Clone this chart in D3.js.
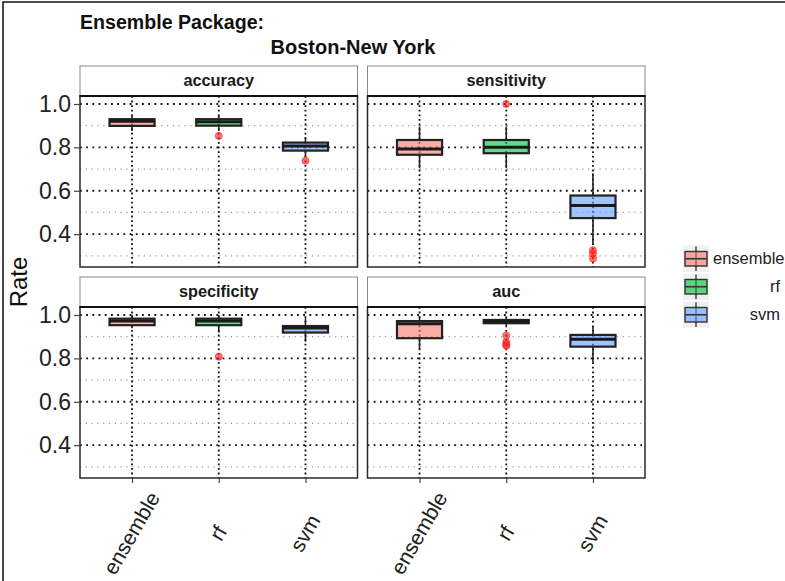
<!DOCTYPE html>
<html>
<head>
<meta charset="utf-8">
<script src="https://cdn.jsdelivr.net/npm/d3@7/dist/d3.min.js"></script>
<style>
  html, body { margin: 0; padding: 0; background: #fff; }
  svg { display: block; font-family: "Liberation Sans", Arial, sans-serif; }
</style>
</head>
<body>
<svg id="chart" width="785" height="581"></svg>
<script>
// Methods compared in every facet
const methods = ["ensemble", "rf", "svm"];
const metrics = ["accuracy", "sensitivity", "specificity", "auc"];

// Box statistics per method: [lower whisker, Q1, median, Q3, upper whisker]
const accuracyBoxes = [
  [0.875, 0.899, 0.920, 0.930, 0.950],
  [0.875, 0.900, 0.918, 0.930, 0.950],
  [0.758, 0.785, 0.806, 0.822, 0.847]
];
const sensitivityBoxes = [
  [0.704, 0.766, 0.792, 0.834, 0.896],
  [0.704, 0.773, 0.801, 0.834, 0.896],
  [0.352, 0.474, 0.532, 0.578, 0.681]
];
const specificityBoxes = [
  [0.939, 0.953, 0.972, 0.983, 1.000],
  [0.919, 0.953, 0.972, 0.983, 1.000],
  [0.877, 0.919, 0.940, 0.949, 0.985]
];
const aucBoxes = [
  [0.842, 0.893, 0.960, 0.972, 0.995],
  [0.950, 0.962, 0.970, 0.977, 0.990],
  [0.781, 0.854, 0.888, 0.908, 0.949]
];

// Points beyond the whiskers
const accuracyOutliers = [[], [0.853], [0.738]];
const sensitivityOutliers = [[], [1.000], [0.325, 0.310, 0.288]];
const specificityOutliers = [[], [0.808], []];
const aucOutliers = [[], [0.905, 0.875, 0.865, 0.858], []];

const yTicks = [0.4, 0.6, 0.8, 1.0];
const yMinor = [0.3, 0.5, 0.7, 0.9];

const boxesByMetric = {
  accuracy: accuracyBoxes, sensitivity: sensitivityBoxes,
  specificity: specificityBoxes, auc: aucBoxes
};
const outliersByMetric = {
  accuracy: accuracyOutliers, sensitivity: sensitivityOutliers,
  specificity: specificityOutliers, auc: aucOutliers
};

const fills = d3.scaleOrdinal().domain(methods).range(["#F8766D", "#00BA38", "#619CFF"]);

const svg = d3.select("#chart");

// outer frame
svg.append("rect").attr("x", 3).attr("y", 2).attr("width", 800).attr("height", 600)
  .attr("fill", "none").attr("stroke", "#111").attr("stroke-width", 1.5);

// titles
svg.append("text").attr("x", 80).attr("y", 29).attr("font-size", 19.6).attr("font-weight", "bold")
  .attr("fill", "#111").text("Ensemble Package:");
svg.append("text").attr("x", 353).attr("y", 54).attr("text-anchor", "middle").attr("font-size", 20)
  .attr("font-weight", "bold").attr("fill", "#111").text("Boston-New York");

// facet layout
const panelW = 277.5, gapX = 10, left0 = 80;
const stripH = 30;
const rowTops = [66, 277];
const plotH = 171;

const y = d3.scaleLinear().domain([0.2485, 1.0368]).range([plotH, 0]);
const x = d3.scalePoint().domain(methods).range([0, panelW]).padding(0.6);
const boxW = x.step() * 0.52;

metrics.forEach((m, i) => {
  const col = i % 2, row = Math.floor(i / 2);
  const px = left0 + col * (panelW + gapX);
  const sy = rowTops[row];
  const py = sy + stripH;

  // strip
  svg.append("rect").attr("x", px).attr("y", sy).attr("width", panelW).attr("height", stripH)
    .attr("fill", "#fff").attr("stroke", "#888").attr("stroke-width", 1);
  svg.append("text").attr("x", px + panelW / 2).attr("y", sy + stripH / 2 + 1)
    .attr("text-anchor", "middle").attr("dominant-baseline", "middle")
    .attr("font-size", 16.3).attr("font-weight", "bold").attr("fill", "#1a1a1a").text(m);

  const g = svg.append("g").attr("transform", `translate(${px},${py})`);

  // grid
  g.selectAll(".minor").data(yMinor).join("line")
    .attr("x1", 0).attr("x2", panelW).attr("y1", d => y(d)).attr("y2", d => y(d))
    .attr("stroke", "#9a9a9a").attr("stroke-width", 1.2).attr("stroke-dasharray", "1.2,4.6");
  g.selectAll(".major").data(yTicks).join("line")
    .attr("x1", 0).attr("x2", panelW).attr("y1", d => y(d)).attr("y2", d => y(d))
    .attr("stroke", "#111").attr("stroke-width", 1.8).attr("stroke-dasharray", "1.8,4.4");
  g.selectAll(".vmajor").data(methods).join("line")
    .attr("x1", d => x(d)).attr("x2", d => x(d)).attr("y1", 0).attr("y2", plotH)
    .attr("stroke", "#111").attr("stroke-width", 1.8).attr("stroke-dasharray", "1.8,2.8");

  // boxes
  const stats = boxesByMetric[m];
  methods.forEach((meth, k) => {
    const [lo, q1, med, q3, hi] = stats[k];
    const cx = x(meth);
    g.append("line").attr("x1", cx).attr("x2", cx).attr("y1", y(hi)).attr("y2", y(q3))
      .attr("stroke", "#222").attr("stroke-width", 1.6);
    g.append("line").attr("x1", cx).attr("x2", cx).attr("y1", y(q1)).attr("y2", y(lo))
      .attr("stroke", "#222").attr("stroke-width", 1.6);
    g.append("rect").attr("x", cx - boxW / 2).attr("y", y(q3)).attr("width", boxW)
      .attr("height", y(q1) - y(q3))
      .attr("fill", fills(meth)).attr("fill-opacity", 0.6)
      .attr("stroke", "#222").attr("stroke-width", 2.2);
    g.append("line").attr("x1", cx - boxW / 2).attr("x2", cx + boxW / 2)
      .attr("y1", y(med)).attr("y2", y(med)).attr("stroke", "#1a1a1a").attr("stroke-width", 3);
    g.selectAll(null).data(outliersByMetric[m][k]).join("circle")
      .attr("cx", cx).attr("cy", d => y(d)).attr("r", 3.6)
      .attr("fill", "#ff2020").attr("fill-opacity", 0.65)
      .attr("stroke", "#ff2020").attr("stroke-opacity", 0.5).attr("stroke-width", 1);
  });

  // panel border
  g.append("rect").attr("x", 0).attr("y", 0).attr("width", panelW).attr("height", plotH)
    .attr("fill", "none").attr("stroke", "#2a2a2a").attr("stroke-width", 1.5);
  g.append("line").attr("x1", -0.5).attr("x2", panelW + 0.5).attr("y1", 0).attr("y2", 0)
    .attr("stroke", "#111").attr("stroke-width", 2.2);

  // y axis on left column
  if (col === 0) {
    const ya = g.append("g").call(d3.axisLeft(y).tickValues(yTicks).tickFormat(d3.format(".1f"))
      .tickSize(6).tickPadding(3));
    ya.select(".domain").remove();
    ya.selectAll("line").attr("stroke", "#444").attr("stroke-width", 1.2);
    ya.selectAll("text").attr("font-size", 23).attr("fill", "#222")
      .attr("font-family", "Liberation Sans, Arial, sans-serif");
  }
  // x axis on bottom row
  if (row === 1) {
    const xa = g.append("g").attr("transform", `translate(0,${plotH})`)
      .call(d3.axisBottom(x).tickSize(5).tickFormat(""));
    xa.select(".domain").remove();
    xa.selectAll("line").attr("stroke", "#444").attr("stroke-width", 1.2);
    g.selectAll(".xlab").data(methods).join("text")
      .attr("transform", d => `translate(${x(d) + 1},${plotH + 56}) rotate(-60)`)
      .attr("text-anchor", "middle").attr("dominant-baseline", "middle")
      .attr("font-size", 21).attr("fill", "#222").text(d => d);
  }
});

// y axis title
svg.append("text").attr("transform", "translate(27,282) rotate(-90)")
  .attr("text-anchor", "middle").attr("font-size", 24).attr("fill", "#111").text("Rate");

// legend
const keyX = 683, keyW = 26, keyH = 26.5, keyY0 = 245.5, keyStep = 28;
const legend = svg.append("g");
methods.forEach((meth, k) => {
  const ky = keyY0 + k * keyStep;
  legend.append("rect").attr("x", keyX).attr("y", ky).attr("width", keyW).attr("height", keyH)
    .attr("fill", "#f0f0f0");
  const cx = keyX + keyW / 2;
  legend.append("line").attr("x1", cx).attr("x2", cx).attr("y1", ky + 1).attr("y2", ky + keyH - 1)
    .attr("stroke", "#333").attr("stroke-width", 1.4);
  legend.append("rect").attr("x", keyX + 2).attr("y", ky + 6).attr("width", keyW - 4).attr("height", keyH - 12)
    .attr("fill", fills(meth)).attr("fill-opacity", 0.6).attr("stroke", "#333").attr("stroke-width", 1.4);
  legend.append("line").attr("x1", keyX + 2).attr("x2", keyX + keyW - 2)
    .attr("y1", ky + keyH / 2).attr("y2", ky + keyH / 2).attr("stroke", "#333").attr("stroke-width", 1.6);
  const t = legend.append("text").attr("y", ky + keyH / 2 + 1).attr("dominant-baseline", "middle")
    .attr("font-size", 16.5).attr("fill", "#222").text(meth);
  const w = t.node().getComputedTextLength();
  t.attr("x", Math.max(keyX + 30, 780 - w));
});
</script>
</body>
</html>
